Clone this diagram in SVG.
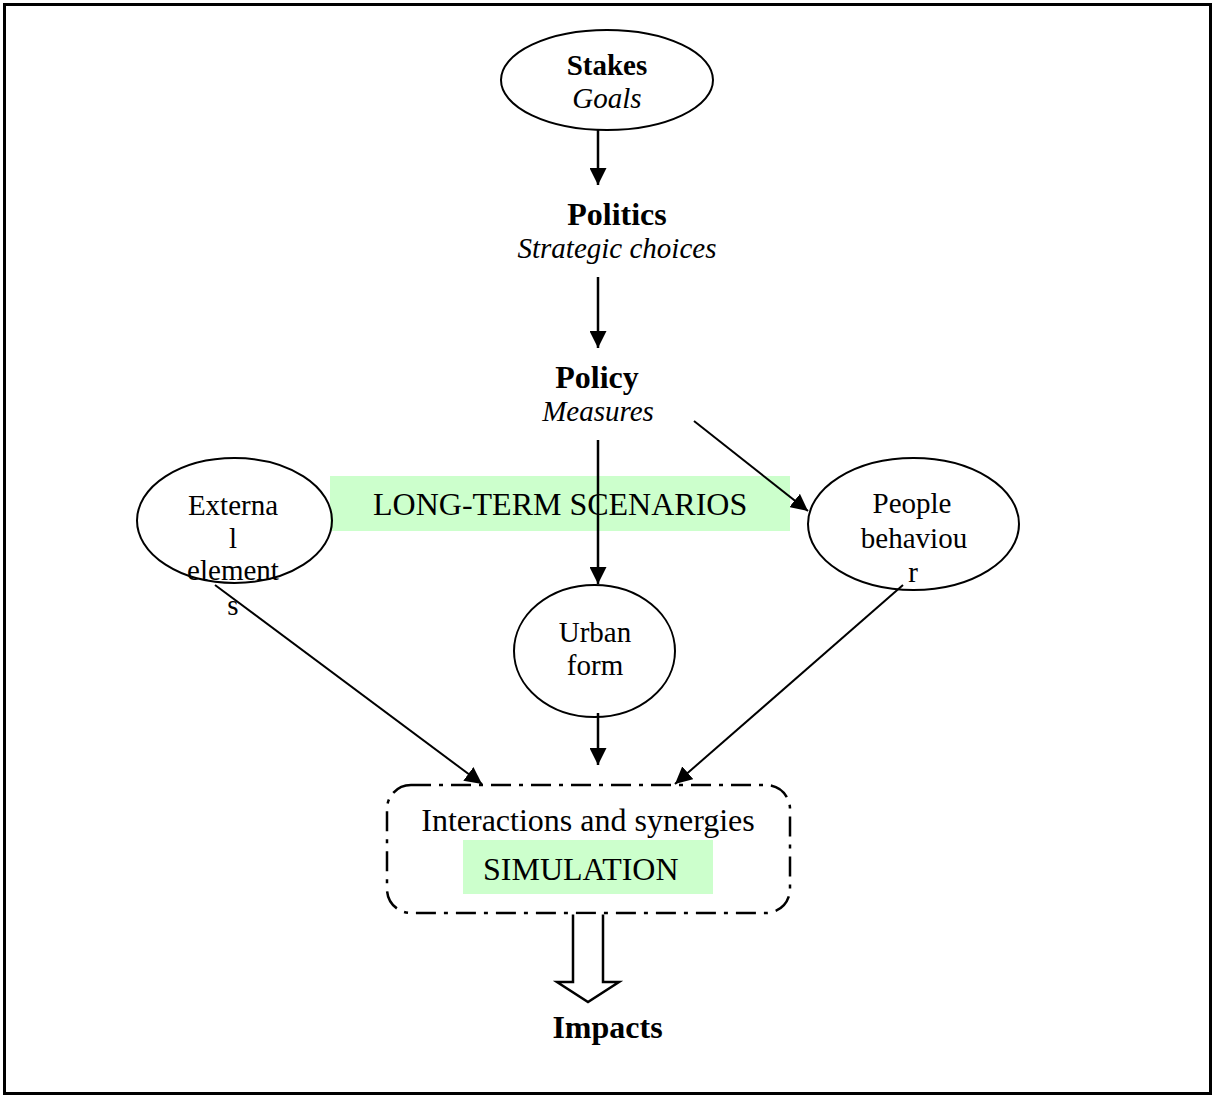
<svg xmlns="http://www.w3.org/2000/svg" width="1213" height="1095" viewBox="0 0 1213 1095">
<style>
text{font-family:"Liberation Serif","Times New Roman",serif;fill:#000}
.b{font-weight:bold}
.i{font-style:italic}
.n{font-size:29px}
.l{font-size:32px}
.m{text-anchor:middle}
.node{fill:none;stroke:#000;stroke-width:2}
.hl{fill:#CCFFCC}
.c{stroke:#000;stroke-width:2;fill:none}
.v{stroke-width:2.5}
</style>
<defs>
<marker id="ah" viewBox="0 0 16 16" refX="16" refY="8" markerWidth="17" markerHeight="17" markerUnits="userSpaceOnUse" orient="auto">
<path d="M0,0 L16,8 L0,16 z" fill="#000"/>
</marker>
</defs>
<rect x="4.5" y="4.5" width="1206" height="1089" fill="#fff" stroke="#000" stroke-width="3"/>
<g id="stakes">
<ellipse class="node" cx="607" cy="80" rx="106" ry="50"/>
<text class="n b m" x="607" y="75">Stakes</text>
<text class="n i m" x="607" y="108">Goals</text>
</g>
<g id="politics">
<text class="l b m" x="617" y="225">Politics</text>
<text class="n i m" x="617" y="258">Strategic choices</text>
</g>
<g id="policy">
<text class="l b m" x="597" y="388">Policy</text>
<text class="n i m" x="598" y="421">Measures</text>
</g>
<g id="scenarios">
<rect class="hl" x="330" y="476" width="460" height="55"/>
<text class="l" x="373" y="515">LONG-TERM SCENARIOS</text>
</g>
<g id="external">
<ellipse class="node" cx="234.5" cy="520.5" rx="97.5" ry="62.5"/>
<text class="n m" x="233" y="515">Externa</text>
<text class="n m" x="233" y="548">l</text>
<text class="n m" x="233" y="580">element</text>
<text class="n m" x="233" y="615">s</text>
</g>
<g id="people">
<ellipse class="node" cx="913.5" cy="524" rx="105.5" ry="66"/>
<text class="n m" x="912" y="513">People</text>
<text class="n m" x="914" y="548">behaviou</text>
<text class="n m" x="913" y="582">r</text>
</g>
<g id="urban">
<ellipse class="node" cx="594.5" cy="651" rx="80.5" ry="66"/>
<text class="n m" x="595" y="642">Urban</text>
<text class="n m" x="595" y="675">form</text>
</g>
<g id="simulation">
<rect x="387" y="785" width="403" height="128" rx="24" ry="24" fill="none" stroke="#000" stroke-width="2.5" stroke-dasharray="20 8 4 8"/>
<text class="l m" x="588" y="831">Interactions and synergies</text>
<rect class="hl" x="463" y="840" width="250" height="54"/>
<text class="l" x="483" y="880">SIMULATION</text>
</g>
<g id="impacts">
<text class="l b m" x="607.5" y="1038">Impacts</text>
</g>
<g id="connectors">
<line class="c v" x1="598" y1="130" x2="598" y2="185" marker-end="url(#ah)"/>
<line class="c v" x1="598" y1="277" x2="598" y2="348" marker-end="url(#ah)"/>
<line class="c v" x1="598" y1="440" x2="598" y2="584" marker-end="url(#ah)"/>
<line class="c" x1="694" y1="421" x2="808" y2="511" marker-end="url(#ah)"/>
<line class="c" x1="215" y1="585" x2="482" y2="784" marker-end="url(#ah)"/>
<line class="c" x1="903" y1="585" x2="675" y2="784" marker-end="url(#ah)"/>
<line class="c v" x1="598" y1="713" x2="598" y2="765" marker-end="url(#ah)"/>
<path d="M573,914.5 L573,982 L557,982 L588,1002 L619,982 L603,982 L603,914.5" fill="#fff" stroke="#000" stroke-width="2.5"/>
</g>
</svg>
